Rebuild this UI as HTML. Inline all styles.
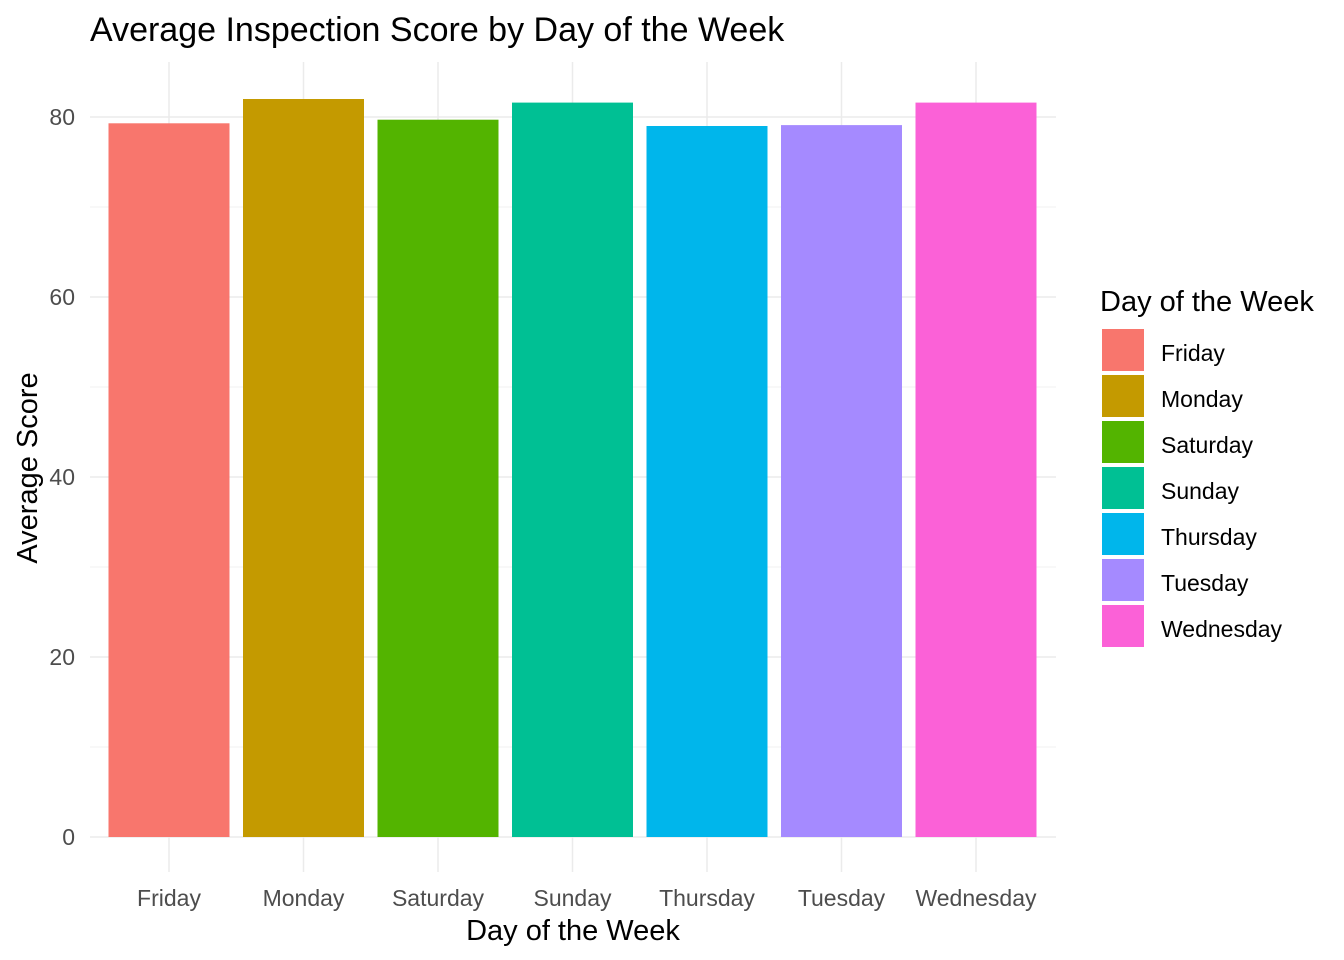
<!DOCTYPE html>
<html><head><meta charset="utf-8"><style>
body{margin:0;background:#fff}
svg{display:block;font-family:"Liberation Sans",Arial,sans-serif}
</style></head><body>
<svg id="c" width="1344" height="960">
<rect width="1344" height="960" fill="#fff"/>
<text x="90" y="41" font-size="34" fill="#000">Average Inspection Score by Day of the Week</text>
<g id="grid"></g><g id="bars"></g><g id="ticks"></g><g id="legend"></g>
<text x="573" y="940" font-size="29" text-anchor="middle" fill="#000">Day of the Week</text>
<text transform="translate(37,468) rotate(-90)" font-size="29" text-anchor="middle" fill="#000">Average Score</text>
</svg>
<script>
const categories=["Friday","Monday","Saturday","Sunday","Thursday","Tuesday","Wednesday"];
const values=[79.3,82.0,79.7,81.6,79.0,79.1,81.6];
const colors=["#F8766D","#C49A00","#53B400","#00C094","#00B6EB","#A58AFF","#FB61D7"];
const yTicks=[0,20,40,60,80];
const yMinor=[10,30,50,70];
const NS="http://www.w3.org/2000/svg";
const px0=90,px1=1056,py0=62;
const y=v=>837-v*9;
const step=134.5,x=i=>169+i*step,bw=121;
function mk(t,a,p){const e=document.createElementNS(NS,t);for(const k in a)e.setAttribute(k,a[k]);document.getElementById(p).appendChild(e);return e;}
yMinor.forEach(v=>{const l=mk('line',{x1:px0,x2:px1,y1:y(v),y2:y(v),stroke:'#f2f2f2','stroke-width':1},'grid');

});
yTicks.forEach(v=>{const l=mk('line',{x1:px0,x2:px1,y1:y(v),y2:y(v),stroke:'#ebebeb','stroke-width':1.5},'grid');


const t=mk('text',{x:75,y:y(v)+8,'font-size':23,'text-anchor':'end',fill:'#4d4d4d'},'ticks');t.textContent=v;

});
categories.forEach((c,i)=>{const l=mk('line',{x1:x(i),x2:x(i),y1:py0,y2:872,stroke:'#ebebeb','stroke-width':1.5},'grid');


const b=mk('rect',{x:x(i)-bw/2,y:y(values[i]),width:bw,height:y(0)-y(values[i]),fill:colors[i]},'bars');


const t=mk('text',{x:x(i),y:906,'font-size':23,'text-anchor':'middle',fill:'#4d4d4d'},'ticks');t.textContent=c;


const k=mk('rect',{x:1102,y:329+i*46,width:42,height:42,fill:colors[i]},'legend');


const lt=mk('text',{x:1161,y:361+i*46,'font-size':23,fill:'#000'},'legend');lt.textContent=c;

});
const lt=mk('text',{x:1100,y:311,'font-size':29,fill:'#000'},'legend');lt.textContent="Day of the Week";


</script>
</body></html>
